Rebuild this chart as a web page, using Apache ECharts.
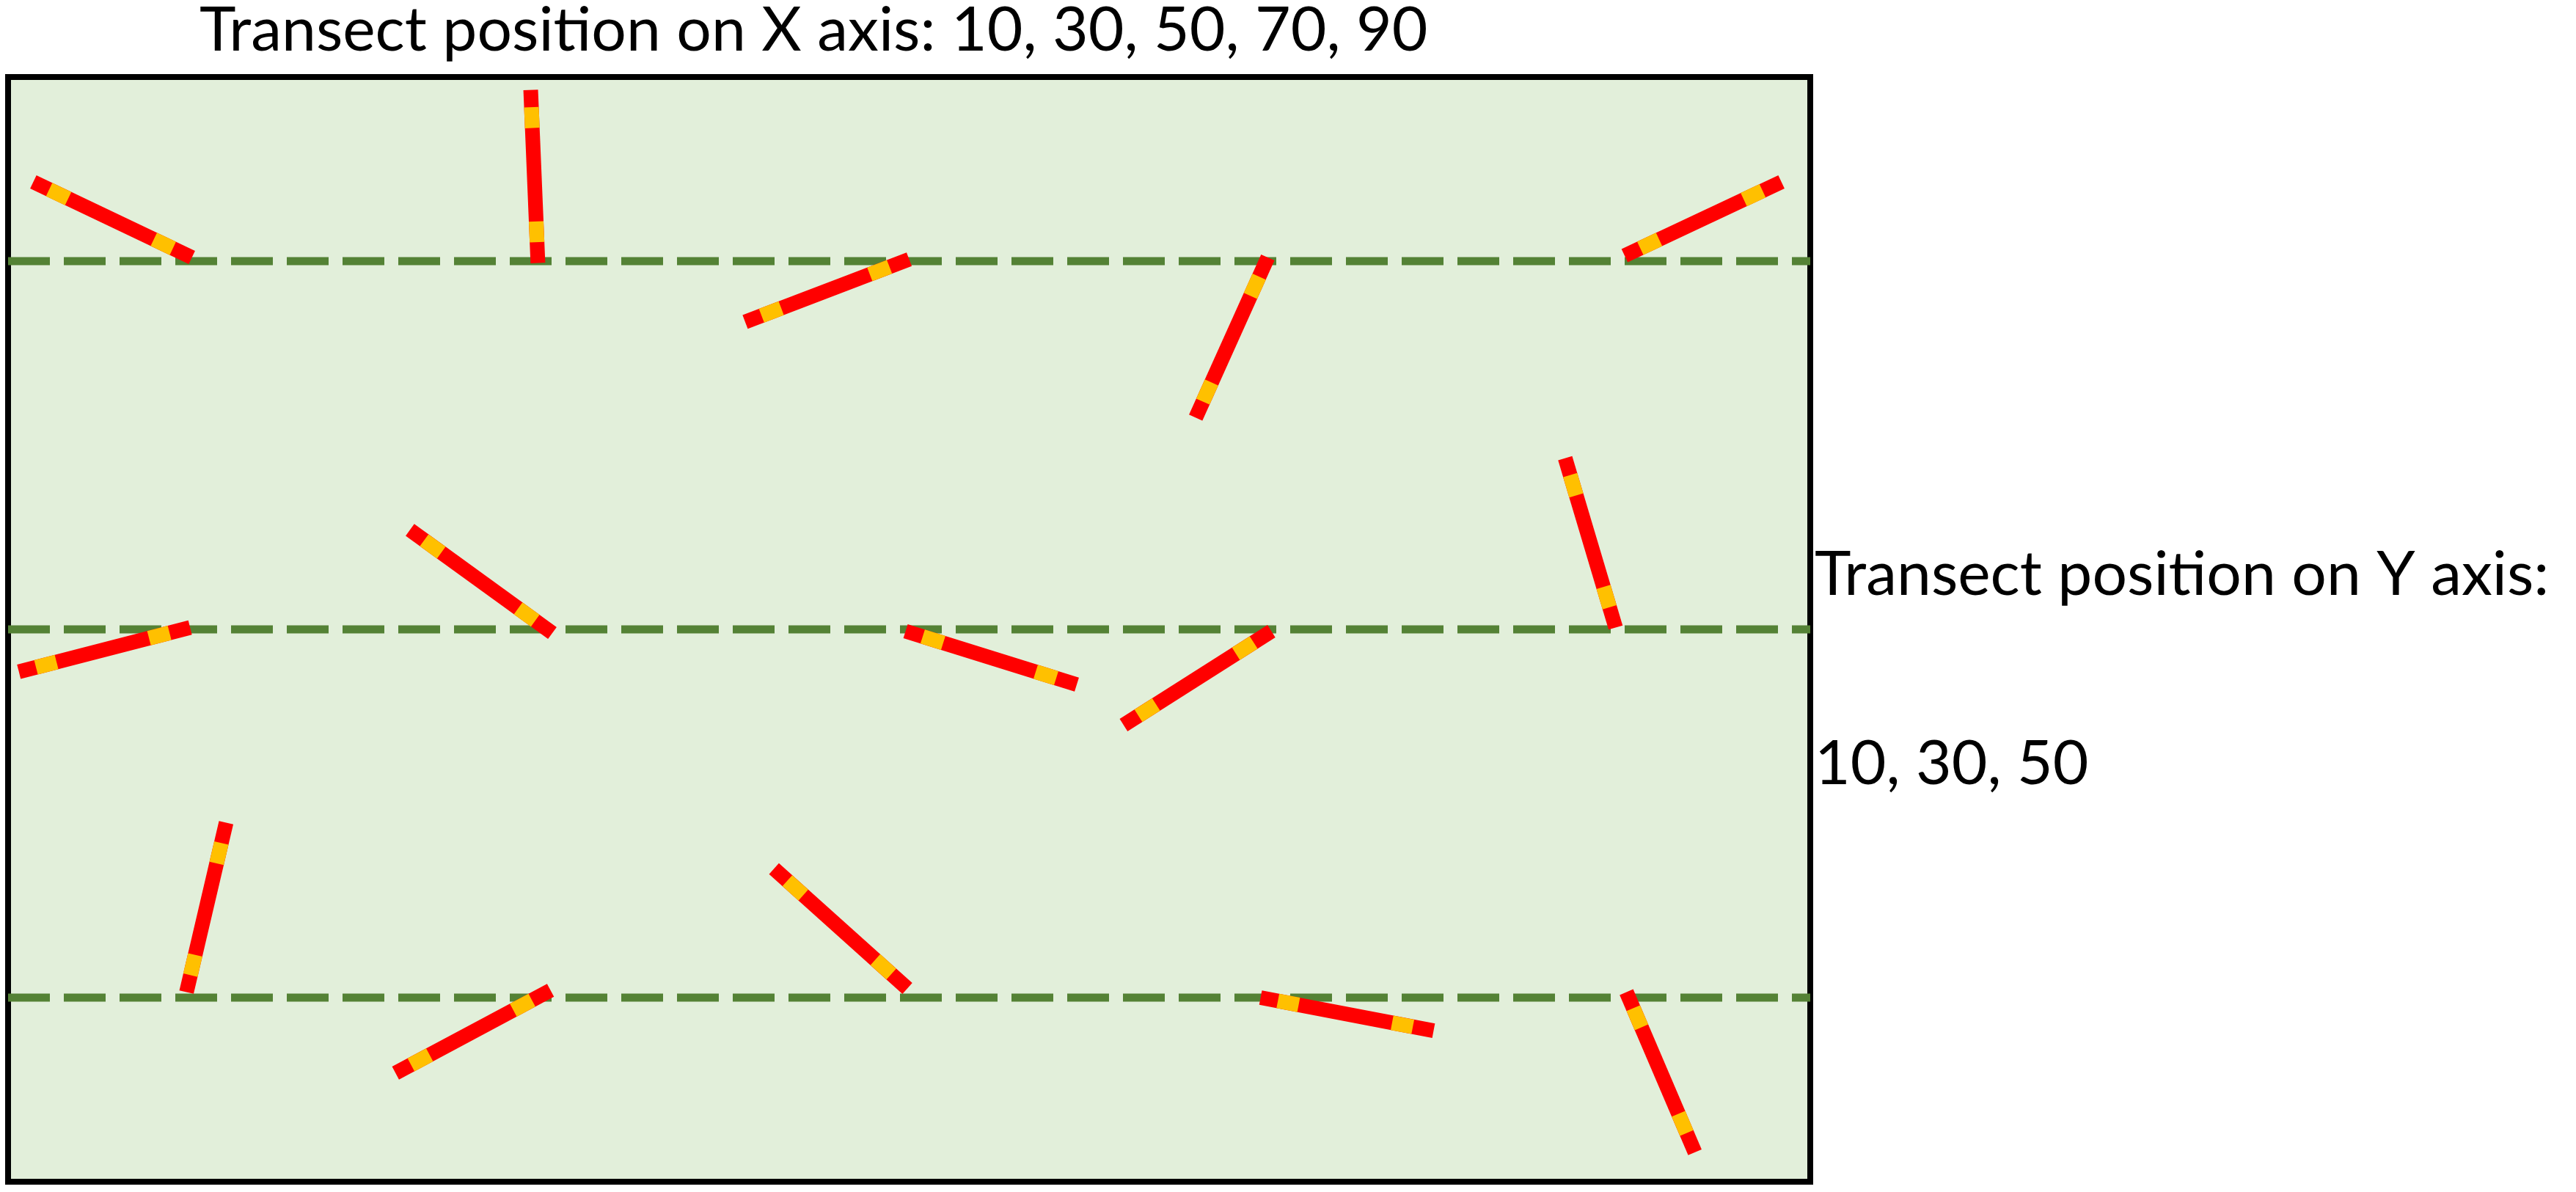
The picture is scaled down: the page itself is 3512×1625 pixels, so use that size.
<!DOCTYPE html>
<html>
<head>
<meta charset="utf-8">
<script src="https://cdn.jsdelivr.net/npm/echarts@6/dist/echarts.min.js"></script>
<style>html,body{margin:0;padding:0;background:#fff}#main{width:3512px;height:1625px}</style>
</head>
<body>
<div id="main"></div>
<script>
// plot area units: x 0..100, y 0..60 (top = 0)
var transectY = [10, 30, 50];
// needle endpoints [x1, y1, x2, y2]
var needles = [
    [1.4, 5.7, 10.2, 9.8],
    [29.0, 0.7, 29.4, 10.1],
    [40.9, 13.3, 50.0, 9.9],
    [65.9, 18.5, 69.9, 9.8],
    [89.7, 9.7, 98.4, 5.7],
    [22.3, 24.6, 30.2, 30.2],
    [0.6, 32.3, 10.1, 29.9],
    [49.8, 30.1, 59.3, 33.0],
    [61.9, 35.2, 70.1, 30.1],
    [86.4, 20.7, 89.2, 29.9],
    [9.9, 49.7, 12.1, 40.5],
    [42.5, 43.0, 49.9, 49.5],
    [21.5, 54.1, 30.1, 49.6],
    [69.5, 50.0, 79.1, 51.8],
    [89.8, 49.7, 93.6, 58.4]
];
// where the yellow marks sit along each needle (fractions)
var marks = [[0.1, 0.22], [0.76, 0.88]];

var myChart = echarts.init(document.getElementById('main'));

var transectSeries = transectY.map(function (y) {
    return {
        type: 'line', data: [[0, y], [100, y]], symbol: 'none', silent: true, z: 2,
        lineStyle: { color: '#548235', width: 11, type: [57, 19] }
    };
});

var font = '84px Lato, "Open Sans", sans-serif';
var option = {
    animation: false,
    grid: {
        left: 11, top: 105, width: 2457, height: 1506,
        show: true, backgroundColor: '#E2EFDA', borderColor: '#000', borderWidth: 8
    },
    xAxis: { type: 'value', min: 0, max: 100, show: false },
    yAxis: { type: 'value', min: 0, max: 60, inverse: true, show: false },
    graphic: [
        { type: 'text', left: 272, top: 0, style: { text: 'Transect position on X axis: 10, 30, 50, 70, 90', font: font, fill: '#000' } },
        { type: 'text', left: 2474, top: 742, style: { text: 'Transect position on Y axis:', font: font, fill: '#000' } },
        { type: 'text', left: 2474, top: 1000, style: { text: '10, 30, 50', font: font, fill: '#000' } }
    ],
    series: transectSeries.concat([{
        type: 'custom',
        z: 5,
        data: needles,
        renderItem: function (params, api) {
            var a = api.coord([api.value(0), api.value(1)]);
            var b = api.coord([api.value(2), api.value(3)]);
            var children = [{
                type: 'line', shape: { x1: a[0], y1: a[1], x2: b[0], y2: b[1] },
                style: { stroke: '#FF0000', lineWidth: 20 }
            }];
            marks.forEach(function (m) {
                children.push({
                    type: 'line',
                    shape: {
                        x1: a[0] + (b[0] - a[0]) * m[0], y1: a[1] + (b[1] - a[1]) * m[0],
                        x2: a[0] + (b[0] - a[0]) * m[1], y2: a[1] + (b[1] - a[1]) * m[1]
                    },
                    style: { stroke: '#FFC000', lineWidth: 20 }
                });
            });
            return { type: 'group', children: children };
        }
    }])
};
myChart.setOption(option);
</script>
</body>
</html>
